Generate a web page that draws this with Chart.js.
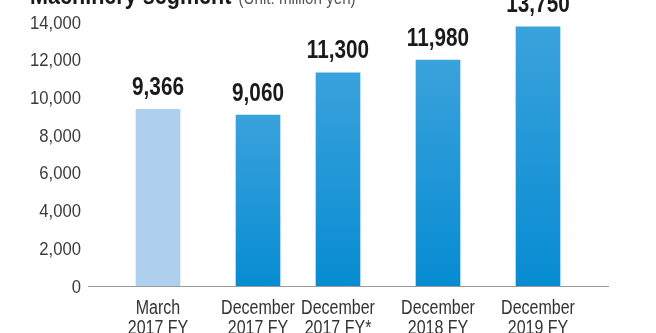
<!DOCTYPE html>
<html>
<head>
<meta charset="utf-8">
<script src="https://cdn.jsdelivr.net/npm/chart.js@4/dist/chart.umd.min.js"></script>
<style>
  html, body { margin: 0; padding: 0; background: #ffffff; overflow: hidden; }
  #wrap { position: relative; width: 656px; height: 333px; }
</style>
</head>
<body>
<div id="wrap"><canvas id="chart" width="656" height="333"></canvas></div>
<script>
// Fiscal periods (two-line axis labels)
const periods = [
  ['March', '2017 FY'],
  ['December', '2017 FY'],
  ['December', '2017 FY*'],
  ['December', '2018 FY'],
  ['December', '2019 FY']
];
// Net sales, million yen
const netSales = [9366, 9060, 11300, 11980, 13750];
// Value axis ticks
const yTicks = [0, 2000, 4000, 6000, 8000, 10000, 12000, 14000];

const titleMain = 'Machinery segment';
const titleUnit = '(Unit: million yen)';

// Empty category slots placed ahead of each period; the restated
// December 2017 figure sits a little closer to the original one.
const SLOTS_BEFORE = [3, 4, 3, 4, 4];
const SLOTS_AFTER = 3;

// Text is set in Liberation Sans, squeezed horizontally for a condensed look
const FAMILY = "'Liberation Sans', Arial, sans-serif";
const LIGHT_BLUE = '#AECFEE';
const BLUE_TOP = '#3AA2DC';
const BLUE_BOTTOM = '#078CD2';

const labels = [];
const values = [];
const periodOfSlot = [];
periods.forEach((p, i) => {
  for (let s = 0; s < SLOTS_BEFORE[i]; s++) { labels.push(''); values.push(null); periodOfSlot.push(-1); }
  labels.push(p); values.push(netSales[i]); periodOfSlot.push(i);
});
for (let s = 0; s < SLOTS_AFTER; s++) { labels.push(''); values.push(null); periodOfSlot.push(-1); }

const fmt = v => Number(v).toLocaleString('en-US');

// Draw text compressed horizontally by sx around its anchor point
function narrowText(ctx, text, x, y, font, color, align, sx) {
  ctx.save();
  ctx.font = font;
  ctx.fillStyle = color;
  ctx.textAlign = align;
  ctx.textBaseline = 'alphabetic';
  ctx.translate(x, y);
  ctx.scale(sx, 1);
  ctx.fillText(text, 0, 0);
  ctx.restore();
}

// Axis labels for both scales
const axisLabels = {
  id: 'axisLabels',
  afterDraw(chart) {
    const ctx = chart.ctx;
    const xs = chart.scales.x, ys = chart.scales.y;
    const yFont = '18.5px ' + FAMILY;
    yTicks.forEach(v => {
      const py = ys.getPixelForValue(v);
      narrowText(ctx, fmt(v), 81, py + 6.6, yFont, '#3a3a3a', 'right', 0.9);
    });
    const xFont = '20px ' + FAMILY;
    const base = xs.top + 27.5;
    labels.forEach((lab, i) => {
      if (!Array.isArray(lab)) return;
      const px = xs.getPixelForValue(i);
      lab.forEach((line, k) => {
        narrowText(ctx, line, px, base + k * 20.3, xFont, '#333333', 'center', 0.8);
      });
    });
  }
};

// Bold figures above each bar
const valueLabels = {
  id: 'valueLabels',
  afterDatasetsDraw(chart) {
    const ctx = chart.ctx;
    const meta = chart.getDatasetMeta(0);
    const data = chart.data.datasets[0].data;
    meta.data.forEach((bar, idx) => {
      const v = data[idx];
      if (v == null) return;
      narrowText(ctx, fmt(v), bar.x, bar.y - 14.5, 'bold 25px ' + FAMILY, '#1a1a1a', 'center', 0.83);
    });
  }
};

// Heading: bold segment name followed by the unit note
const heading = {
  id: 'heading',
  afterDraw(chart) {
    const ctx = chart.ctx;
    const x0 = 30, base = 4;
    const boldFont = 'bold 26px ' + FAMILY;
    narrowText(ctx, titleMain, x0, base, boldFont, '#1a1a1a', 'left', 0.83);
    ctx.save();
    ctx.font = boldFont;
    const w = ctx.measureText(titleMain).width * 0.83;
    ctx.restore();
    narrowText(ctx, titleUnit, x0 + w + 7, base, '18.5px ' + FAMILY, '#555555', 'left', 0.82);
  }
};

new Chart(document.getElementById('chart'), {
  type: 'bar',
  data: {
    labels: labels,
    datasets: [{
      data: values,
      barThickness: 44,
      borderWidth: 0,
      backgroundColor(c) {
        if (periodOfSlot[c.dataIndex] === 0) return LIGHT_BLUE;
        const chart = c.chart;
        if (!chart.chartArea || c.raw == null || !chart.scales.y) return BLUE_BOTTOM;
        const ys = chart.scales.y;
        const top = ys.getPixelForValue(c.raw);
        const bottom = ys.getPixelForValue(0);
        const g = chart.ctx.createLinearGradient(0, top, 0, bottom);
        g.addColorStop(0, BLUE_TOP);
        g.addColorStop(1, BLUE_BOTTOM);
        return g;
      }
    }]
  },
  options: {
    responsive: false,
    devicePixelRatio: 1,
    animation: false,
    layout: { padding: { top: 22, right: 48, left: 0, bottom: 0 } },
    plugins: {
      legend: { display: false },
      tooltip: { enabled: false },
      title: { display: false }
    },
    scales: {
      x: {
        type: 'category',
        grid: { display: false, drawTicks: false },
        border: { display: true, color: '#9a9a9a', width: 1 },
        ticks: { display: false, autoSkip: false },
        afterFit(scale) { scale.height = 47; }
      },
      y: {
        min: 0,
        max: 14000,
        afterBuildTicks(scale) { scale.ticks = yTicks.map(v => ({ value: v })); },
        grid: { display: false, drawTicks: false },
        border: { display: false },
        ticks: { display: false },
        afterFit(scale) { scale.width = 88; }
      }
    }
  },
  plugins: [valueLabels, axisLabels, heading]
});
</script>
</body>
</html>
